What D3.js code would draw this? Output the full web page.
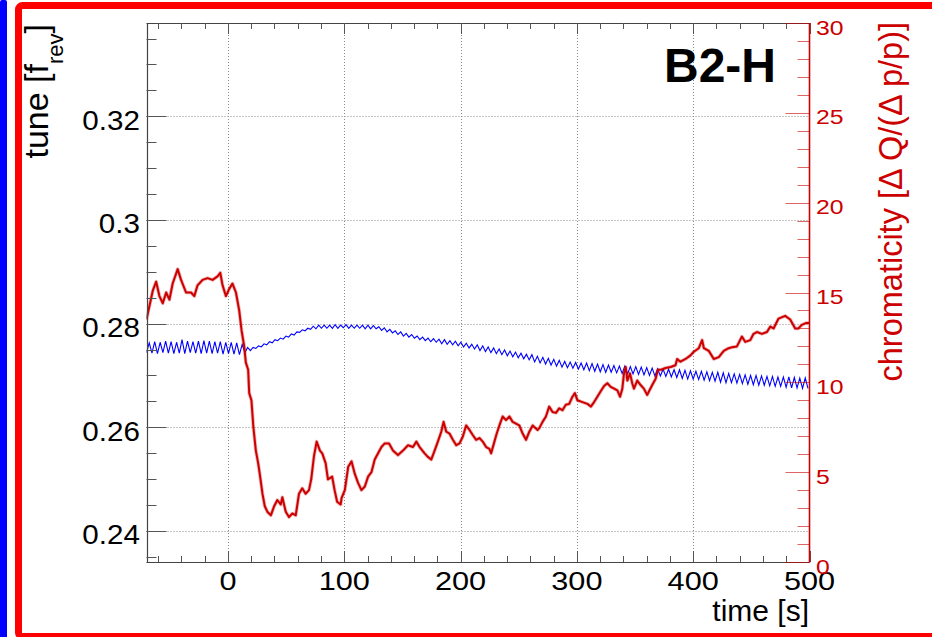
<!DOCTYPE html>
<html>
<head>
<meta charset="utf-8">
<script src="https://cdn.jsdelivr.net/npm/d3@7"></script>
<style>
  html, body { margin: 0; padding: 0; background: #ffffff; }
  svg { display: block; font-family: "Liberation Sans", Arial, Helvetica, sans-serif; }
</style>
</head>
<body>
<svg id="chart" width="932" height="637"></svg>
<script>
// ---- axis ticks and labels ----
const timeTicks = [0, 100, 200, 300, 400, 500];
const timeTickLabels = ["0", "100", "200", "300", "400", "500"];
const tuneTicks = [0.24, 0.26, 0.28, 0.30, 0.32];
const tuneTickLabels = ["0.24", "0.26", "0.28", "0.3", "0.32"];
const chromaTicks = [0, 5, 10, 15, 20, 25, 30];
const chromaTickLabels = ["0", "5", "10", "15", "20", "25", "30"];

// ---- horizontal tune [f_rev], sampled every tuneStep seconds from tuneStart ----
const tuneStart = -70;
const tuneStep = 2.35;
const tuneValues = [
  0.2744,0.2763,0.2743,0.2765,0.2742,0.2764,0.2744,0.2766,0.2743,0.2765,
  0.2742,0.2764,0.2743,0.2769,0.2742,0.2766,0.2744,0.2765,0.2743,0.2766,
  0.2742,0.2767,0.2743,0.2766,0.2742,0.2765,0.2743,0.2765,0.2741,0.2764,
  0.2742,0.2764,0.2741,0.2763,0.2740,0.2760,0.2744,0.2754,0.2748,0.2754,
  0.2752,0.2757,0.2755,0.2761,0.2759,0.2765,0.2763,0.2769,0.2767,0.2772,
  0.2770,0.2776,0.2774,0.2780,0.2778,0.2784,0.2783,0.2788,0.2786,0.2791,
  0.2789,0.2795,0.2790,0.2797,0.2791,0.2797,0.2791,0.2797,0.2791,0.2798,
  0.2791,0.2797,0.2792,0.2798,0.2791,0.2797,0.2791,0.2797,0.2791,0.2797,
  0.2790,0.2797,0.2790,0.2796,0.2790,0.2794,0.2787,0.2792,0.2784,0.2789,
  0.2782,0.2786,0.2779,0.2784,0.2776,0.2781,0.2774,0.2779,0.2772,0.2776,
  0.2769,0.2774,0.2767,0.2772,0.2765,0.2771,0.2764,0.2770,0.2761,0.2769,
  0.2760,0.2767,0.2759,0.2766,0.2757,0.2764,0.2755,0.2762,0.2753,0.2760,
  0.2751,0.2759,0.2748,0.2757,0.2746,0.2755,0.2744,0.2753,0.2742,0.2751,
  0.2740,0.2749,0.2738,0.2747,0.2736,0.2745,0.2734,0.2743,0.2732,0.2741,
  0.2730,0.2740,0.2726,0.2737,0.2724,0.2735,0.2722,0.2733,0.2720,0.2731,
  0.2718,0.2729,0.2716,0.2727,0.2715,0.2726,0.2714,0.2725,0.2712,0.2724,
  0.2711,0.2724,0.2709,0.2723,0.2708,0.2722,0.2707,0.2721,0.2706,0.2720,
  0.2706,0.2719,0.2705,0.2718,0.2704,0.2718,0.2703,0.2717,0.2703,0.2717,
  0.2702,0.2716,0.2701,0.2715,0.2700,0.2714,0.2699,0.2713,0.2699,0.2712,
  0.2698,0.2712,0.2697,0.2711,0.2696,0.2711,0.2694,0.2710,0.2693,0.2709,
  0.2693,0.2708,0.2692,0.2708,0.2691,0.2707,0.2690,0.2706,0.2689,0.2706,
  0.2687,0.2705,0.2686,0.2704,0.2686,0.2703,0.2685,0.2702,0.2684,0.2701,
  0.2683,0.2700,0.2682,0.2700,0.2681,0.2699,0.2681,0.2698,0.2680,0.2698,
  0.2679,0.2697,0.2679,0.2697,0.2677,0.2697,0.2676,0.2696,0.2676,0.2695,
  0.2675,0.2695,0.2675
];

// ---- chromaticity [dQ/(dp/p)] ----
const chromaTime = [
  -70,-64.6,-61.7,-58.9,-56.0,-53.1,-50.3,-47.5,-43.2,-40.3,
  -36.0,-31.7,-28.9,-26.1,-21.8,-17.5,-13.2,-8.9,-6.6,-4.6,
  -1.7,1.1,3.9,6.9,9.7,11.7,14.0,15.4,17.4,18.3,
  20.2,21.9,24.0,26.0,27.7,29.7,31.7,33.9,36.9,39.7,
  42.5,45.4,46.8,49.7,52.5,55.4,58.3,61.1,63.9,66.8,
  69.7,71.6,74.0,76.3,79.1,81.1,84.0,86.0,89.6,91.7,
  93.9,96.9,97.7,100.5,103.4,106.3,109.1,111.9,114.8,117.7,
  120.5,123.4,126.2,129.1,132.0,134.8,138.5,141.9,146.2,150.5,
  154.8,159.1,162.0,164.8,169.1,171.9,174.8,177.7,180.5,183.4,
  185.4,187.7,190.5,193.4,196.3,199.1,201.9,204.8,207.7,210.5,
  213.4,216.2,219.1,222.0,224.8,226.3,229.1,231.1,233.4,236.2,
  239.1,242.0,244.8,247.7,250.5,253.4,256.3,259.1,262.0,266.2,
  267.7,270.5,273.4,276.2,279.1,282.0,284.8,287.6,290.5,293.4,
  296.2,298.3,300.5,304.8,309.1,312.0,314.8,317.6,320.5,323.4,
  326.2,329.1,332.0,334.8,337.1,339.1,340.5,342.0,343.4,345.7,
  347.6,349.1,351.9,354.8,357.6,360.5,362.0,364.8,367.7,369.7,
  372.5,376.3,380.6,384.8,386.2,389.1,393.4,397.7,400.5,404.8,
  407.7,409.2,413.4,417.7,422.0,426.3,430.5,433.4,437.6,441.9,
  444.8,449.1,451.9,454.8,459.1,463.4,466.3,469.1,473.4,479.1,
  483.4,487.7,490.5,493.4,496.8,500
];
const chromaValues = [
  13.5,15.1,15.6,14.8,14.4,15.0,14.6,15.5,16.3,15.7,
  15.0,15.0,14.8,15.4,15.7,15.8,15.7,15.9,16.1,15.4,
  14.8,15.2,15.5,15.0,14.0,12.9,12.0,11.1,10.7,9.4,
  9.0,7.5,6.2,5.5,4.75,3.8,3.1,2.8,2.6,3.1,
  3.45,3.2,3.6,2.8,2.5,2.7,2.6,3.8,4.1,3.8,
  4.0,4.6,5.9,6.7,6.2,6.05,5.5,4.6,4.75,4.0,
  3.35,3.2,3.55,4.0,5.3,5.6,4.9,4.4,4.0,4.2,
  4.75,5.0,5.7,6.05,6.4,6.6,6.6,6.2,5.95,6.2,
  6.5,6.4,6.7,6.4,6.05,5.85,5.7,6.2,6.7,7.25,
  7.8,7.25,7.15,6.8,6.5,6.6,6.97,7.6,7.35,7.07,
  6.8,6.9,6.7,6.4,6.3,6.05,6.7,7.15,7.6,8.1,
  7.9,8.1,7.8,7.7,7.6,7.15,6.8,7.25,7.6,7.35,
  7.45,7.8,8.1,8.65,8.35,8.3,8.55,8.45,8.75,8.8,
  9.2,9.4,9.0,8.9,8.8,8.65,8.9,9.2,9.5,9.8,
  9.95,9.75,9.65,9.55,9.2,9.65,10.5,10.85,10.1,10.5,
  9.95,9.65,10.1,9.85,9.65,9.3,9.5,9.85,10.2,10.7,
  10.7,10.8,10.85,10.95,11.3,11.15,11.3,11.5,11.7,11.9,
  12.35,11.9,11.75,11.3,11.4,11.75,11.9,11.95,12.0,12.55,
  12.25,12.35,12.7,12.8,12.7,12.8,13.1,13.0,13.55,13.7,
  13.5,13.0,13.0,13.2,13.3,13.3
];

// ---- layout ----
const svg = d3.select("#chart");
const frame = { left: 146.5, right: 809.5, top: 23, bottom: 562 };
const red = "#cc0000";

const x = d3.scaleLinear().domain([-70, 500]).range([frame.left, frame.right]);
const yTune = d3.scaleLinear().domain([0.234, 0.338]).range([frame.bottom, frame.top]);
const yChroma = d3.scaleLinear().domain([0, 30]).range([frame.bottom, frame.top]);

const px = v => Math.round(v) + 0.5;

// panel borders
svg.append("rect").attr("x", 0).attr("y", 0).attr("width", 7).attr("height", 640)
  .attr("rx", 2).attr("fill", "#0000ff");
svg.append("rect").attr("x", 18.5).attr("y", 5.5).attr("width", 1000).attr("height", 631)
  .attr("rx", 4).attr("fill", "none").attr("stroke", "#ff0000").attr("stroke-width", 7);

// grid
const grid = svg.append("g").attr("stroke", "#8a8a8a").attr("stroke-width", 1)
  .attr("stroke-dasharray", "1,2");
grid.selectAll("line.gx").data(timeTicks.filter(t => t < 500)).join("line")
  .attr("x1", d => px(x(d))).attr("x2", d => px(x(d)))
  .attr("y1", frame.top).attr("y2", frame.bottom);
grid.selectAll("line.gy").data(tuneTicks).join("line")
  .attr("y1", d => px(yTune(d))).attr("y2", d => px(yTune(d)))
  .attr("x1", frame.left).attr("x2", frame.right);

// data lines, clipped to the frame
svg.append("clipPath").attr("id", "frameClip").append("rect")
  .attr("x", frame.left).attr("y", frame.top)
  .attr("width", frame.right - frame.left).attr("height", frame.bottom - frame.top);
const lines = svg.append("g").attr("clip-path", "url(#frameClip)");

const tuneLine = d3.line()
  .x((d, i) => x(tuneStart + i * tuneStep))
  .y(d => yTune(d));
lines.append("path").datum(tuneValues).attr("d", tuneLine)
  .attr("fill", "none").attr("stroke", "#0000ff").attr("stroke-width", 1.1);

const chromaLine = d3.line()
  .x((d, i) => x(chromaTime[i]))
  .y(d => yChroma(d));
// soft underlay for the fast jitter of the chromaticity trace
lines.append("path").datum(chromaValues).attr("d", chromaLine)
  .attr("fill", "none").attr("stroke", red).attr("stroke-opacity", 0.3)
  .attr("stroke-width", 3.6).attr("stroke-linejoin", "round");
lines.append("path").datum(chromaValues).attr("d", chromaLine)
  .attr("fill", "none").attr("stroke", red).attr("stroke-width", 2)
  .attr("stroke-linejoin", "round");

// frame lines (left, bottom, top)
const axisCol = "#444";
svg.append("line").attr("x1", px(frame.left)).attr("x2", px(frame.left))
  .attr("y1", frame.top).attr("y2", frame.bottom + 0.5)
  .attr("stroke", axisCol).attr("stroke-width", 1.2);
svg.append("line").attr("x1", frame.left).attr("x2", frame.right)
  .attr("y1", px(frame.bottom)).attr("y2", px(frame.bottom))
  .attr("stroke", axisCol).attr("stroke-width", 1.2);
svg.append("line").attr("x1", frame.left).attr("x2", frame.right)
  .attr("y1", px(frame.top)).attr("y2", px(frame.top))
  .attr("stroke", axisCol).attr("stroke-width", 1.2);

// time axis ticks (bottom, mirrored at top)
const timeMinor = d3.range(-60, 501, 20);
const ticks = svg.append("g").attr("stroke", "#555").attr("stroke-width", 1);
ticks.selectAll("line.bt").data(timeMinor).join("line")
  .attr("x1", d => px(x(d))).attr("x2", d => px(x(d)))
  .attr("y1", frame.bottom)
  .attr("y2", d => frame.bottom - (timeTicks.includes(d) ? 11 : 6));
ticks.selectAll("line.tt").data(timeMinor).join("line")
  .attr("x1", d => px(x(d))).attr("x2", d => px(x(d)))
  .attr("y1", frame.top)
  .attr("y2", d => frame.top + (timeTicks.includes(d) ? 11 : 6));

// tune axis ticks (left)
const tuneMinor = d3.range(47, 68).map(k => k * 0.005);
ticks.selectAll("line.lt").data(tuneMinor).join("line")
  .attr("y1", d => px(yTune(d))).attr("y2", d => px(yTune(d)))
  .attr("x1", frame.left)
  .attr("x2", d => frame.left + (tuneTicks.some(t => Math.abs(t - d) < 1e-6) ? 20 : 10));

// chromaticity axis (right)
const chromaMinor = d3.range(0, 31, 1);
svg.append("g").attr("stroke", red).attr("stroke-opacity", 0.6).attr("stroke-width", 1)
  .selectAll("line").data(chromaMinor).join("line")
  .attr("y1", d => px(yChroma(d))).attr("y2", d => px(yChroma(d)))
  .attr("x2", frame.right)
  .attr("x1", d => frame.right - (chromaTicks.includes(d) ? 24 : 12));
svg.append("line").attr("x1", frame.right).attr("x2", frame.right)
  .attr("y1", frame.top).attr("y2", frame.bottom + 0.5)
  .attr("stroke", red).attr("stroke-width", 1.6);

// tick labels (the label face is drawn slightly widened)
const labelWiden = 1.18;
svg.append("g").attr("font-size", 26).attr("fill", "#000").attr("text-anchor", "middle")
  .selectAll("text").data(timeTicks).join("text")
  .attr("transform", d => `translate(${x(d)},590) scale(${labelWiden},1)`)
  .text((d, i) => timeTickLabels[i]);
svg.append("g").attr("font-size", 27).attr("fill", "#000").attr("text-anchor", "end")
  .selectAll("text").data(tuneTicks).join("text")
  .attr("transform", d => `translate(140,${yTune(d) + 13.5}) scale(${labelWiden * 0.93},1)`)
  .text((d, i) => tuneTickLabels[i]);
svg.append("g").attr("font-size", 21).attr("fill", red).attr("text-anchor", "start")
  .selectAll("text").data(chromaTicks).join("text")
  .attr("transform", d => `translate(816,${yChroma(d) + 11.5}) scale(${labelWiden},1)`)
  .text((d, i) => chromaTickLabels[i]);

// axis titles
svg.append("text").attr("x", 809).attr("y", 621).attr("text-anchor", "end")
  .attr("font-size", 30).text("time [s]");

const tuneTitle = svg.append("text")
  .attr("transform", "translate(48,24) rotate(-90)")
  .attr("text-anchor", "end").attr("font-size", 34);
tuneTitle.append("tspan").text("tune [f");
tuneTitle.append("tspan").attr("font-size", 22).attr("dy", 15).text("rev");
tuneTitle.append("tspan").attr("dy", -15).text("]");

svg.append("text")
  .attr("transform", "translate(902,22) rotate(-90)")
  .attr("text-anchor", "end").attr("font-size", 32.5).attr("fill", red)
  .text("chromaticity [\u0394 Q/(\u0394 p/p)]");

// plane label
svg.append("text").attr("x", 776).attr("y", 81.5).attr("text-anchor", "end")
  .attr("font-size", 48).attr("font-weight", "bold").text("B2-H");
</script>
</body>
</html>
